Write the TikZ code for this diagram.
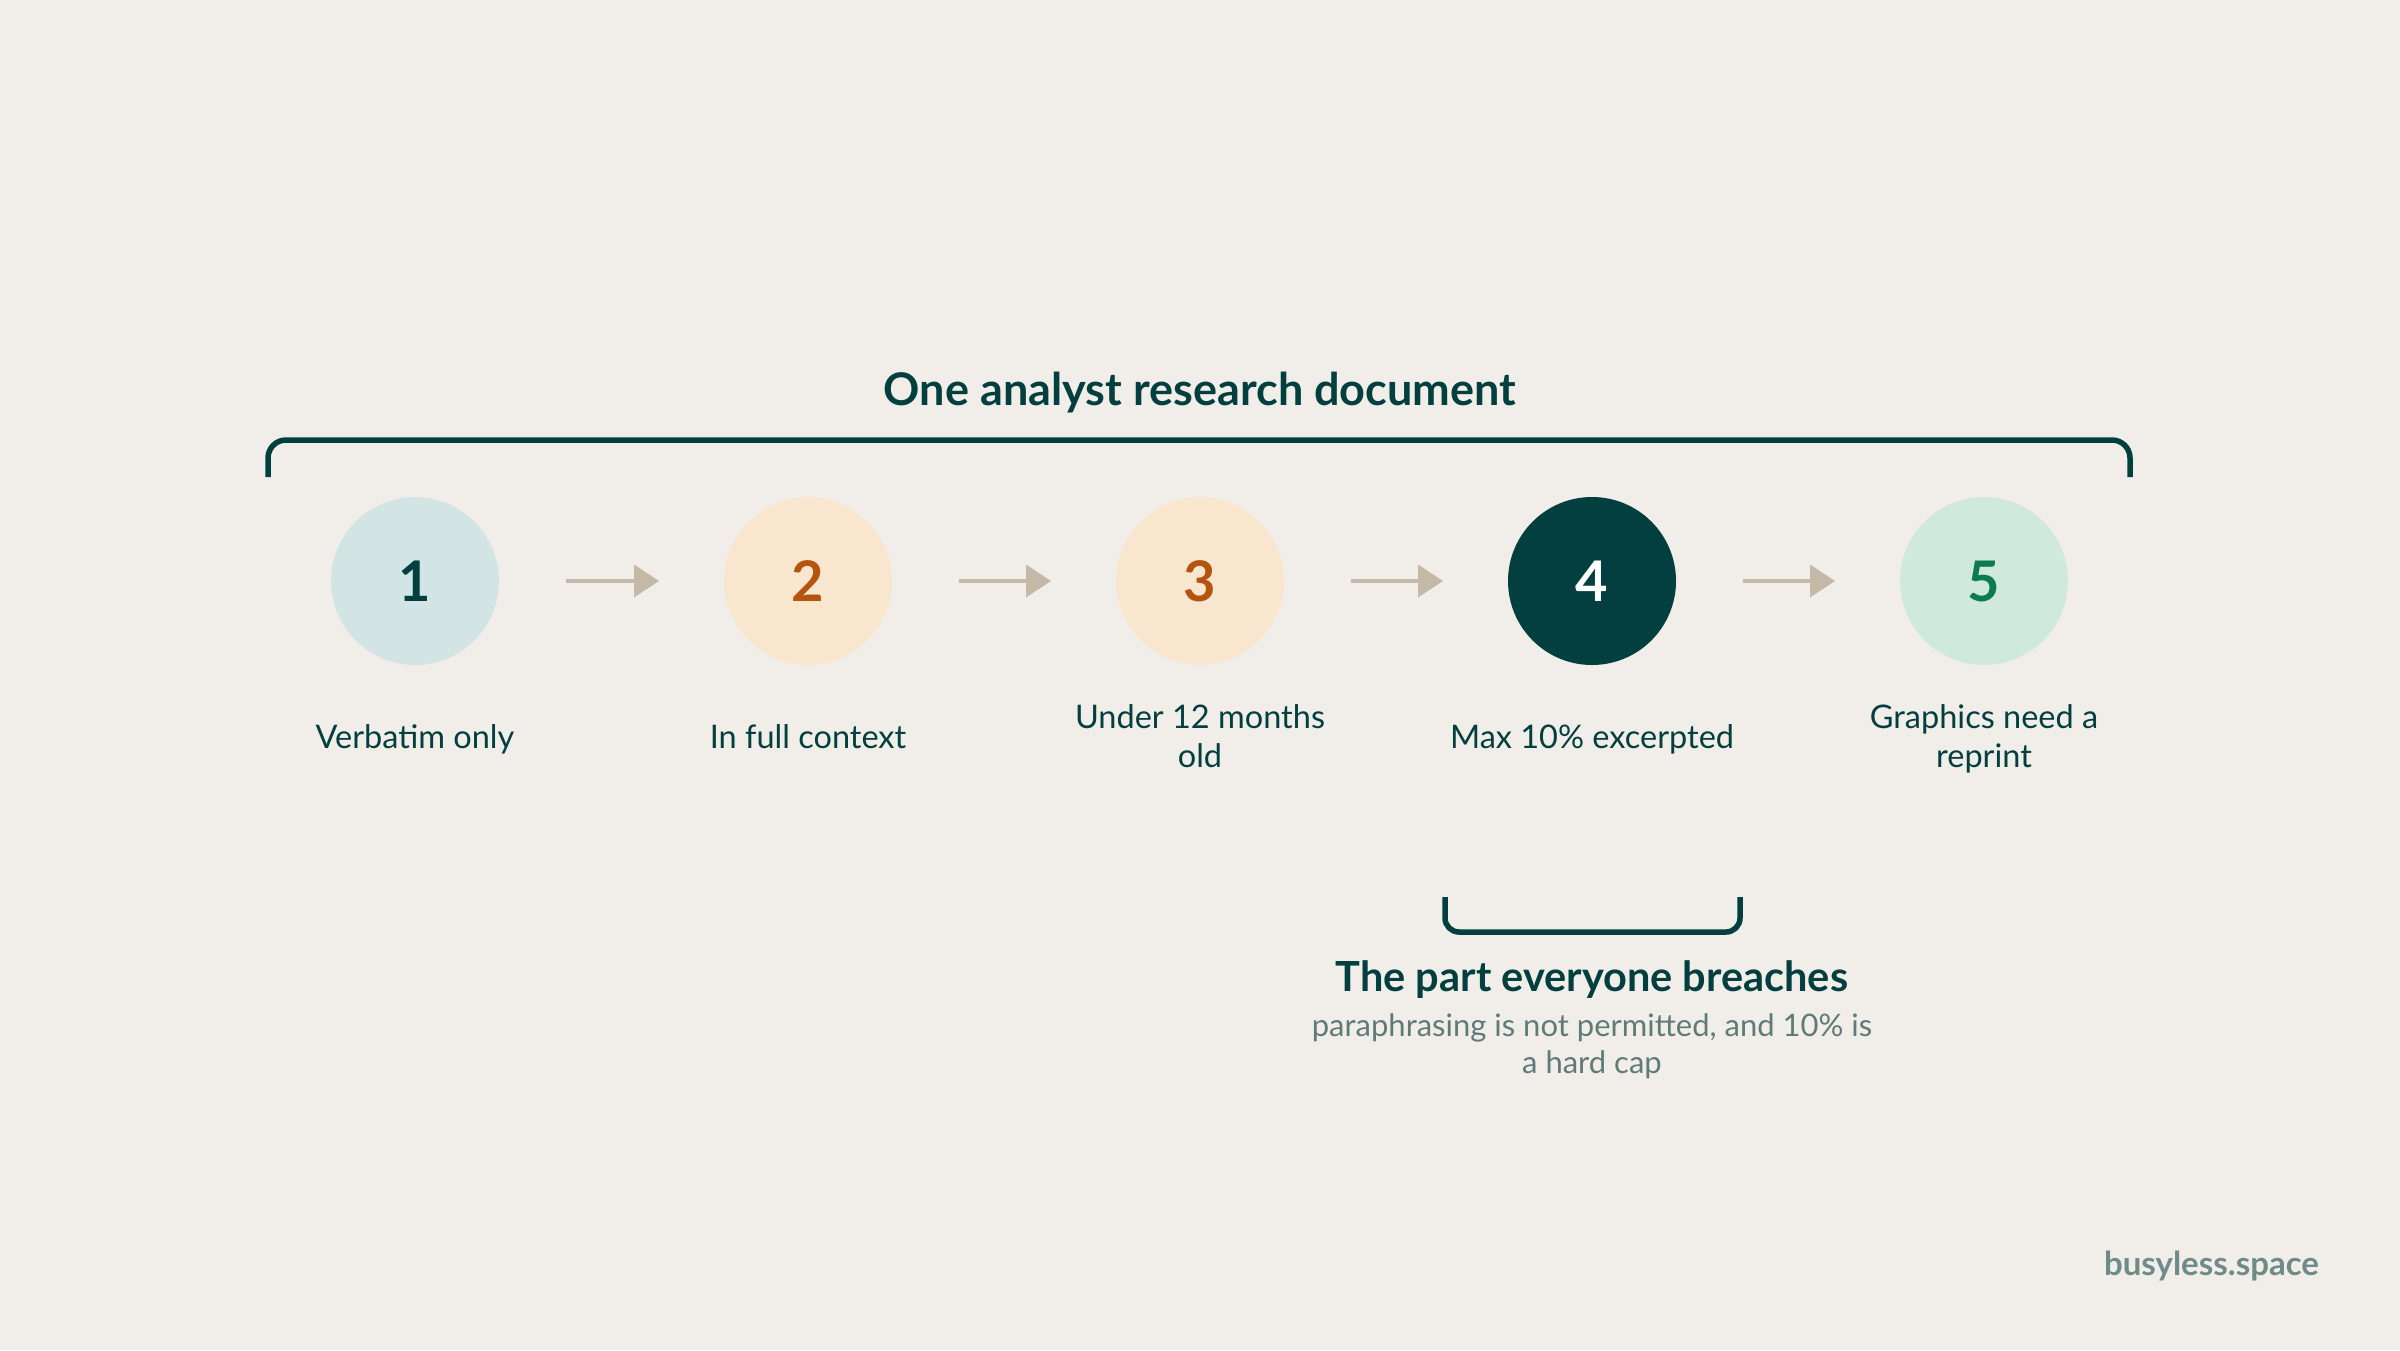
\documentclass[tikz,border=0pt]{standalone}
\usepackage{fontspec}
\setmainfont{Lato}
\usetikzlibrary{arrows.meta}
\definecolor{bg}{HTML}{F1EEE9}
\definecolor{ink}{HTML}{033F3F}
\definecolor{rust}{HTML}{B5540F}
\definecolor{leaf}{HTML}{0D7A55}
\definecolor{cblue}{HTML}{D3E4E4}
\definecolor{cpeach}{HTML}{F8E6CE}
\definecolor{cmint}{HTML}{CFE9DC}
\definecolor{arrowc}{HTML}{C4B8A6}
\definecolor{muted}{HTML}{5F7B79}
\definecolor{brand}{HTML}{6F8B89}
\tikzset{
  stepdot/.style={circle, minimum size=168pt, inner sep=0pt, font=\fontsize{56}{60}\selectfont\bfseries},
  steplabel/.style={align=center, text=ink, anchor=north, font=\fontsize{32.5}{39}\selectfont, inner sep=0pt},
  flow/.style={draw=arrowc, line width=4pt, -{Triangle[length=25pt,width=32pt]}},
  bracketline/.style={draw=ink, line width=5.5pt, rounded corners=18pt},
}
\begin{document}
\begin{tikzpicture}[x=1pt,y=-1pt]
\fill[bg] (0,0) rectangle (2400,1350);
\useasboundingbox (0,0) rectangle (2400,1350);

\node[text=ink, anchor=base, font=\fontsize{45}{50}\selectfont\bfseries] (title) at (1200,405) {One analyst research document};

\coordinate (bl) at (268,477);
\coordinate (br) at (2130,477);
\draw[bracketline] (bl) -- (268,440) -- (2130,440) -- (br);

\node[stepdot, fill=cblue, text=ink] (s1) at (415,581) {1};
\node[stepdot, fill=cpeach, text=rust] (s2) at (808,581) {2};
\node[stepdot, fill=cpeach, text=rust] (s3) at (1200,581) {3};
\node[stepdot, fill=ink, text=white] (s4) at (1592,581) {4};
\node[stepdot, fill=cmint, text=leaf] (s5) at (1984,581) {5};

\foreach \a/\b in {s1/s2,s2/s3,s3/s4,s4/s5}{
  \draw[flow] ([xshift=151pt]\a.center) -- ([xshift=-149pt]\b.center);
}

\node[steplabel] (l1) at (415,720.7) {\strut Verbatim only};
\node[steplabel] (l2) at (808,720.7) {\strut In full context};
\node[steplabel] (l3) at (1200,700.7) {\strut Under 12 months\\\strut old};
\node[steplabel] (l4) at (1592,720.7) {\strut Max 10\% excerpted};
\node[steplabel] (l5) at (1984,700.7) {\strut Graphics need a\\\strut reprint};

\coordinate (cl) at (1445,897);
\coordinate (cr) at (1740,897);
\draw[bracketline, rounded corners=14pt] (cl) -- (1445,932) -- (1740,932) -- (cr);

\node[text=ink, anchor=base, font=\fontsize{41.5}{45}\selectfont\bfseries] (ptitle) at (1592,991) {The part everyone breaches};
\node[text=muted, align=center, anchor=north, font=\fontsize{31}{37}\selectfont, inner sep=0pt] (pnote) at (1592,1010.1) {\strut paraphrasing is not permitted, and 10\% is\\\strut a hard cap};

\node[text=brand, anchor=base east, font=\fontsize{33}{36}\selectfont\bfseries, inner sep=0pt] (brandname) at (2319,1275) {busyless.space};
\end{tikzpicture}
\end{document}
